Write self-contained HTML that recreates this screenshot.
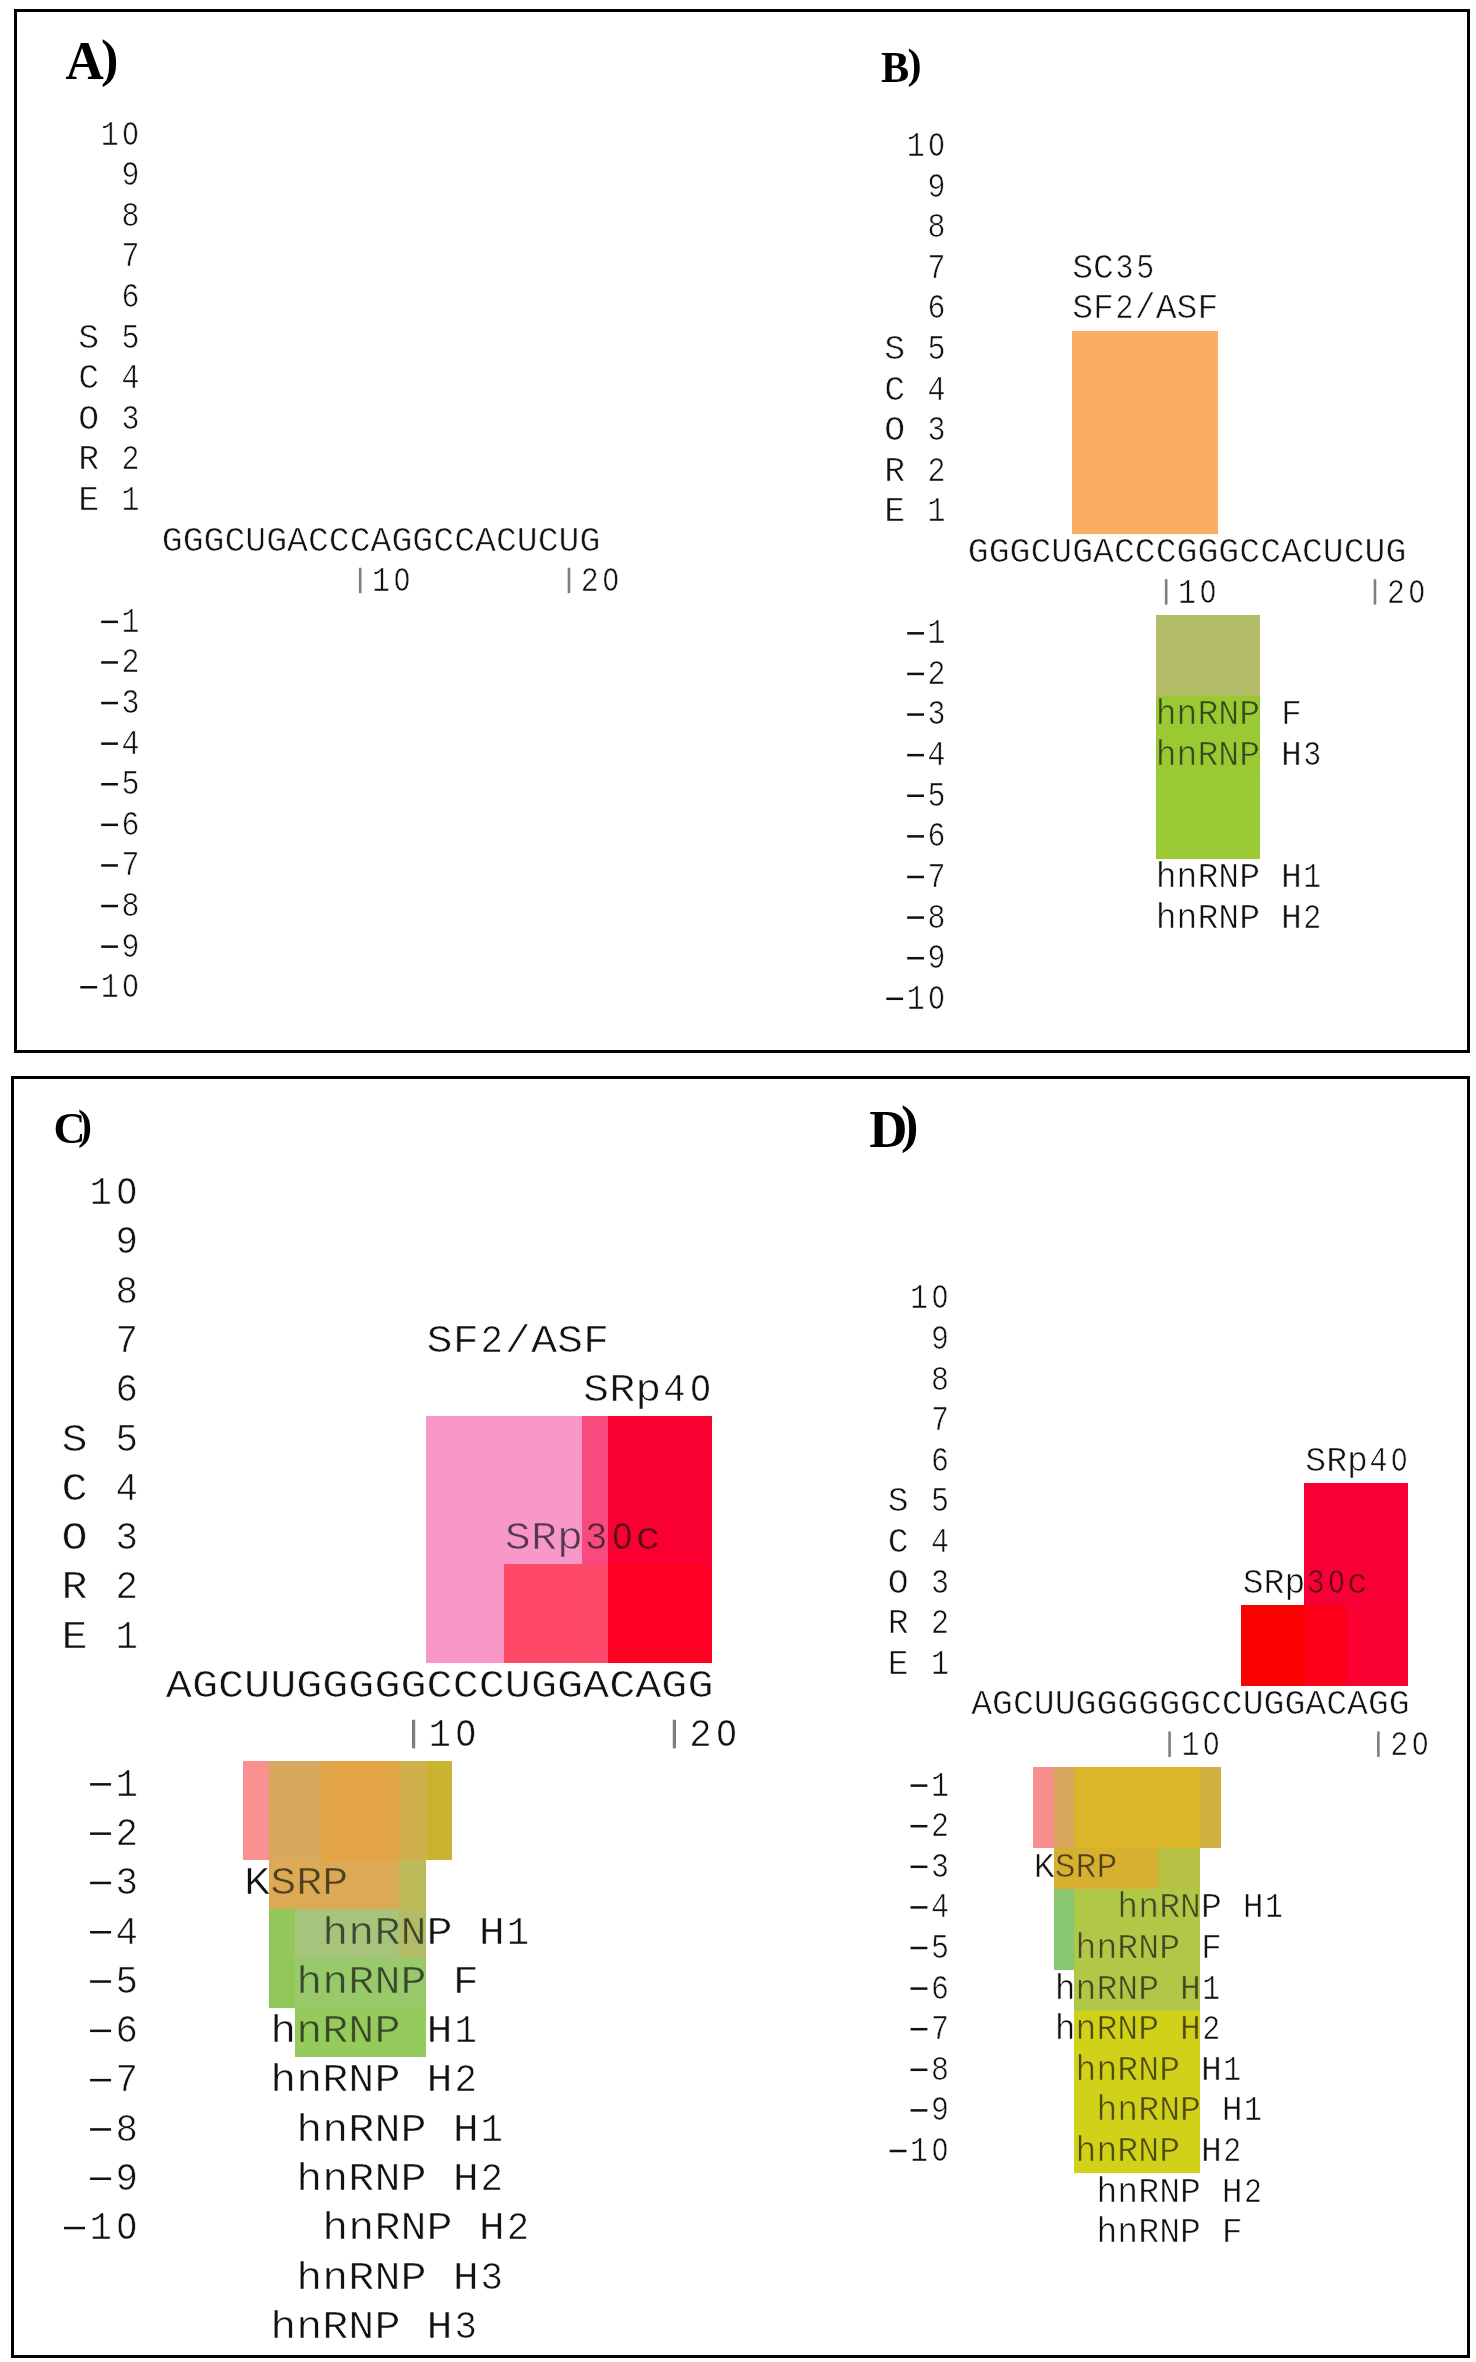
<!DOCTYPE html>
<html><head><meta charset="utf-8"><title>Figure</title>
<style>
html,body{margin:0;padding:0;background:#fff;width:1476px;height:2362px;overflow:hidden;}
svg{display:block;}
text{font-family:"Liberation Mono",monospace;}
</style></head><body>
<svg width="1476" height="2362" viewBox="0 0 1476 2362">
<defs>
<g id="R">
<rect x="1072" y="331" width="146" height="203" fill="#fcac63"/>
<rect x="1156" y="615" width="104" height="81" fill="#b3be68"/>
<rect x="1156" y="696" width="104" height="163" fill="#9acb34"/>
<rect x="426" y="1416" width="156" height="247" fill="#f899c9"/>
<rect x="504" y="1564" width="78" height="99" fill="#ff4a66"/>
<rect x="582" y="1416" width="26" height="148" fill="#f84b7f"/>
<rect x="582" y="1564" width="26" height="99" fill="#ff4a6a"/>
<rect x="608" y="1416" width="104" height="148" fill="#f90032"/>
<rect x="608" y="1564" width="104" height="99" fill="#ff0024"/>
<rect x="243" y="1761" width="26" height="99" fill="#f99191"/>
<rect x="269" y="1761" width="52" height="99" fill="#d7aa5c"/>
<rect x="321" y="1761" width="78" height="99" fill="#e4a548"/>
<rect x="399" y="1761" width="27" height="99" fill="#cfb04e"/>
<rect x="426" y="1761" width="26" height="99" fill="#c9b432"/>
<rect x="269" y="1860" width="130" height="49" fill="#dcaa55"/>
<rect x="399" y="1860" width="27" height="49" fill="#bcba5a"/>
<rect x="269" y="1909" width="26" height="99" fill="#92c85a"/>
<rect x="295" y="1909" width="104" height="49" fill="#a6c47c"/>
<rect x="399" y="1909" width="27" height="49" fill="#b2bc66"/>
<rect x="295" y="1958" width="131" height="50" fill="#99c96c"/>
<rect x="295" y="2008" width="131" height="49" fill="#96cb5e"/>
<rect x="1304" y="1483" width="104" height="122" fill="#f80035"/>
<rect x="1241" y="1605" width="63" height="81" fill="#fb0000"/>
<rect x="1304" y="1605" width="42" height="81" fill="#fd0018"/>
<rect x="1346" y="1605" width="62" height="81" fill="#fb0033"/>
<rect x="1033" y="1767" width="21" height="81" fill="#f79090"/>
<rect x="1054" y="1767" width="20" height="81" fill="#d8a860"/>
<rect x="1074" y="1767" width="126" height="81" fill="#dcb72a"/>
<rect x="1200" y="1767" width="21" height="81" fill="#d0b040"/>
<rect x="1054" y="1848" width="104" height="41" fill="#d8b032"/>
<rect x="1158" y="1848" width="42" height="41" fill="#b8c044"/>
<rect x="1054" y="1889" width="20" height="81" fill="#88c870"/>
<rect x="1074" y="1889" width="126" height="122" fill="#b0c848"/>
<rect x="1074" y="2011" width="126" height="162" fill="#d2d21a"/>
</g>
<g id="T">
<text transform="translate(0 144.57) scale(0.85995 1)" x="117.03" font-size="34.796">1</text>
<text transform="translate(0 144.57) scale(0.78996 1)" x="154.76" font-size="34.796">O</text>
<text transform="translate(0 185.17) scale(0.85995 1)" x="141.31" font-size="34.796">9</text>
<text transform="translate(0 225.77) scale(0.85995 1)" x="141.31" font-size="34.796">8</text>
<text transform="translate(0 266.37) scale(0.85995 1)" x="141.31" font-size="34.796">7</text>
<text transform="translate(0 306.97) scale(0.85995 1)" x="141.31" font-size="34.796">6</text>
<text transform="translate(0 347.57) scale(0.85995 1)" x="141.31" font-size="34.796">5</text>
<text transform="translate(0 388.17) scale(0.85995 1)" x="141.31" font-size="34.796">4</text>
<text transform="translate(0 428.77) scale(0.85995 1)" x="141.31" font-size="34.796">3</text>
<text transform="translate(0 469.37) scale(0.85995 1)" x="141.31" font-size="34.796">2</text>
<text transform="translate(0 509.97) scale(0.85995 1)" x="141.31" font-size="34.796">1</text>
<text transform="translate(0 347.57) scale(0.99994 1)" x="78.30" font-size="34.796">S</text>
<text transform="translate(0 388.17) scale(0.99994 1)" x="78.30" font-size="34.796">C</text>
<text transform="translate(0 428.77) scale(0.99994 1)" x="78.30" font-size="34.796">O</text>
<text transform="translate(0 469.37) scale(0.99994 1)" x="78.30" font-size="34.796">R</text>
<text transform="translate(0 509.97) scale(0.99994 1)" x="78.30" font-size="34.796">E</text>
<text transform="translate(0 550.57) scale(0.99994 1)" x="161.83 182.71 203.59 224.47 245.35 266.24 287.12 308.00 328.88 349.76 370.64 391.52 412.40 433.29 454.17 475.05 495.93 516.81 537.69 558.57 579.45" font-size="34.796">GGGCUGACCCAGGCCACUCUG</text>
<text transform="translate(0 591.17) scale(0.85995 1)" x="432.68" font-size="34.796">1</text>
<text transform="translate(0 591.17) scale(0.78996 1)" x="498.37" font-size="34.796">O</text>
<text transform="translate(0 591.17) scale(0.85995 1)" x="675.48" font-size="34.796">2</text>
<text transform="translate(0 591.17) scale(0.78996 1)" x="762.69" font-size="34.796">O</text>
<text transform="translate(0 631.77) scale(0.85995 1)" x="141.31" font-size="34.796">1</text>
<text transform="translate(0 672.37) scale(0.85995 1)" x="141.31" font-size="34.796">2</text>
<text transform="translate(0 712.97) scale(0.85995 1)" x="141.31" font-size="34.796">3</text>
<text transform="translate(0 753.57) scale(0.85995 1)" x="141.31" font-size="34.796">4</text>
<text transform="translate(0 794.17) scale(0.85995 1)" x="141.31" font-size="34.796">5</text>
<text transform="translate(0 834.77) scale(0.85995 1)" x="141.31" font-size="34.796">6</text>
<text transform="translate(0 875.37) scale(0.85995 1)" x="141.31" font-size="34.796">7</text>
<text transform="translate(0 915.97) scale(0.85995 1)" x="141.31" font-size="34.796">8</text>
<text transform="translate(0 956.57) scale(0.85995 1)" x="141.31" font-size="34.796">9</text>
<text transform="translate(0 997.17) scale(0.85995 1)" x="117.03" font-size="34.796">1</text>
<text transform="translate(0 997.17) scale(0.78996 1)" x="154.76" font-size="34.796">O</text>
<text transform="translate(0 155.92) scale(0.85995 1)" x="1054.30" font-size="34.796">1</text>
<text transform="translate(0 155.92) scale(0.78996 1)" x="1175.06" font-size="34.796">O</text>
<text transform="translate(0 196.53) scale(0.85995 1)" x="1078.58" font-size="34.796">9</text>
<text transform="translate(0 237.14) scale(0.85995 1)" x="1078.58" font-size="34.796">8</text>
<text transform="translate(0 277.75) scale(0.85995 1)" x="1078.58" font-size="34.796">7</text>
<text transform="translate(0 318.36) scale(0.85995 1)" x="1078.58" font-size="34.796">6</text>
<text transform="translate(0 358.97) scale(0.85995 1)" x="1078.58" font-size="34.796">5</text>
<text transform="translate(0 399.58) scale(0.85995 1)" x="1078.58" font-size="34.796">4</text>
<text transform="translate(0 440.19) scale(0.85995 1)" x="1078.58" font-size="34.796">3</text>
<text transform="translate(0 480.80) scale(0.85995 1)" x="1078.58" font-size="34.796">2</text>
<text transform="translate(0 521.41) scale(0.85995 1)" x="1078.58" font-size="34.796">1</text>
<text transform="translate(0 358.97) scale(0.99994 1)" x="884.35" font-size="34.796">S</text>
<text transform="translate(0 399.58) scale(0.99994 1)" x="884.35" font-size="34.796">C</text>
<text transform="translate(0 440.19) scale(0.99994 1)" x="884.35" font-size="34.796">O</text>
<text transform="translate(0 480.80) scale(0.99994 1)" x="884.35" font-size="34.796">R</text>
<text transform="translate(0 521.41) scale(0.99994 1)" x="884.35" font-size="34.796">E</text>
<text transform="translate(0 562.02) scale(0.99994 1)" x="967.88 988.76 1009.64 1030.52 1051.40 1072.28 1093.17 1114.05 1134.93 1155.81 1176.69 1197.57 1218.45 1239.33 1260.22 1281.10 1301.98 1322.86 1343.74 1364.62 1385.50" font-size="34.796">GGGCUGACCCGGGCCACUCUG</text>
<text transform="translate(0 602.63) scale(0.85995 1)" x="1369.94" font-size="34.796">1</text>
<text transform="translate(0 602.63) scale(0.78996 1)" x="1518.67" font-size="34.796">O</text>
<text transform="translate(0 602.63) scale(0.85995 1)" x="1612.75" font-size="34.796">2</text>
<text transform="translate(0 602.63) scale(0.78996 1)" x="1782.99" font-size="34.796">O</text>
<text transform="translate(0 643.24) scale(0.85995 1)" x="1078.58" font-size="34.796">1</text>
<text transform="translate(0 683.85) scale(0.85995 1)" x="1078.58" font-size="34.796">2</text>
<text transform="translate(0 724.46) scale(0.85995 1)" x="1078.58" font-size="34.796">3</text>
<text transform="translate(0 765.07) scale(0.85995 1)" x="1078.58" font-size="34.796">4</text>
<text transform="translate(0 805.68) scale(0.85995 1)" x="1078.58" font-size="34.796">5</text>
<text transform="translate(0 846.29) scale(0.85995 1)" x="1078.58" font-size="34.796">6</text>
<text transform="translate(0 886.90) scale(0.85995 1)" x="1078.58" font-size="34.796">7</text>
<text transform="translate(0 927.51) scale(0.85995 1)" x="1078.58" font-size="34.796">8</text>
<text transform="translate(0 968.12) scale(0.85995 1)" x="1078.58" font-size="34.796">9</text>
<text transform="translate(0 1008.73) scale(0.85995 1)" x="1054.30" font-size="34.796">1</text>
<text transform="translate(0 1008.73) scale(0.78996 1)" x="1175.06" font-size="34.796">O</text>
<text transform="translate(0 1204.05) scale(0.94325 1)" x="94.78" font-size="39.624">1</text>
<text transform="translate(0 1204.05) scale(0.86647 1)" x="134.34" font-size="39.624">O</text>
<text transform="translate(0 1253.35) scale(0.94325 1)" x="122.43" font-size="39.624">9</text>
<text transform="translate(0 1302.65) scale(0.94325 1)" x="122.43" font-size="39.624">8</text>
<text transform="translate(0 1351.95) scale(0.94325 1)" x="122.43" font-size="39.624">7</text>
<text transform="translate(0 1401.25) scale(0.94325 1)" x="122.43" font-size="39.624">6</text>
<text transform="translate(0 1450.55) scale(0.94325 1)" x="122.43" font-size="39.624">5</text>
<text transform="translate(0 1499.85) scale(0.94325 1)" x="122.43" font-size="39.624">4</text>
<text transform="translate(0 1549.15) scale(0.94325 1)" x="122.43" font-size="39.624">3</text>
<text transform="translate(0 1598.45) scale(0.94325 1)" x="122.43" font-size="39.624">2</text>
<text transform="translate(0 1647.75) scale(0.94325 1)" x="122.43" font-size="39.624">1</text>
<text transform="translate(0 1450.55) scale(1.09680 1)" x="56.07" font-size="39.624">S</text>
<text transform="translate(0 1499.85) scale(1.09680 1)" x="56.07" font-size="39.624">C</text>
<text transform="translate(0 1549.15) scale(1.09680 1)" x="56.07" font-size="39.624">O</text>
<text transform="translate(0 1598.45) scale(1.09680 1)" x="56.07" font-size="39.624">R</text>
<text transform="translate(0 1647.75) scale(1.09680 1)" x="56.07" font-size="39.624">E</text>
<text transform="translate(0 1697.05) scale(1.09680 1)" x="151.19 174.96 198.74 222.52 246.30 270.08 293.85 317.63 341.41 365.19 388.97 412.75 436.52 460.30 484.08 507.86 531.64 555.42 579.19 602.97 626.75" font-size="39.624">AGCUUGGGGGCCCUGGACAGG</text>
<text transform="translate(0 1746.35) scale(0.94325 1)" x="454.22" font-size="39.624">1</text>
<text transform="translate(0 1746.35) scale(0.86647 1)" x="525.63" font-size="39.624">O</text>
<text transform="translate(0 1746.35) scale(0.94325 1)" x="730.71" font-size="39.624">2</text>
<text transform="translate(0 1746.35) scale(0.86647 1)" x="826.62" font-size="39.624">O</text>
<text transform="translate(0 1795.65) scale(0.94325 1)" x="122.43" font-size="39.624">1</text>
<text transform="translate(0 1844.95) scale(0.94325 1)" x="122.43" font-size="39.624">2</text>
<text transform="translate(0 1894.25) scale(0.94325 1)" x="122.43" font-size="39.624">3</text>
<text transform="translate(0 1943.55) scale(0.94325 1)" x="122.43" font-size="39.624">4</text>
<text transform="translate(0 1992.85) scale(0.94325 1)" x="122.43" font-size="39.624">5</text>
<text transform="translate(0 2042.15) scale(0.94325 1)" x="122.43" font-size="39.624">6</text>
<text transform="translate(0 2091.45) scale(0.94325 1)" x="122.43" font-size="39.624">7</text>
<text transform="translate(0 2140.75) scale(0.94325 1)" x="122.43" font-size="39.624">8</text>
<text transform="translate(0 2190.05) scale(0.94325 1)" x="122.43" font-size="39.624">9</text>
<text transform="translate(0 2239.35) scale(0.94325 1)" x="94.78" font-size="39.624">1</text>
<text transform="translate(0 2239.35) scale(0.86647 1)" x="134.34" font-size="39.624">O</text>
<text transform="translate(0 1308.32) scale(0.85995 1)" x="1058.25" font-size="34.796">1</text>
<text transform="translate(0 1308.32) scale(0.78996 1)" x="1179.37" font-size="34.796">O</text>
<text transform="translate(0 1348.92) scale(0.85995 1)" x="1082.53" font-size="34.796">9</text>
<text transform="translate(0 1389.52) scale(0.85995 1)" x="1082.53" font-size="34.796">8</text>
<text transform="translate(0 1430.12) scale(0.85995 1)" x="1082.53" font-size="34.796">7</text>
<text transform="translate(0 1470.72) scale(0.85995 1)" x="1082.53" font-size="34.796">6</text>
<text transform="translate(0 1511.32) scale(0.85995 1)" x="1082.53" font-size="34.796">5</text>
<text transform="translate(0 1551.92) scale(0.85995 1)" x="1082.53" font-size="34.796">4</text>
<text transform="translate(0 1592.52) scale(0.85995 1)" x="1082.53" font-size="34.796">3</text>
<text transform="translate(0 1633.12) scale(0.85995 1)" x="1082.53" font-size="34.796">2</text>
<text transform="translate(0 1673.72) scale(0.85995 1)" x="1082.53" font-size="34.796">1</text>
<text transform="translate(0 1511.32) scale(0.99994 1)" x="887.75" font-size="34.796">S</text>
<text transform="translate(0 1551.92) scale(0.99994 1)" x="887.75" font-size="34.796">C</text>
<text transform="translate(0 1592.52) scale(0.99994 1)" x="887.75" font-size="34.796">O</text>
<text transform="translate(0 1633.12) scale(0.99994 1)" x="887.75" font-size="34.796">R</text>
<text transform="translate(0 1673.72) scale(0.99994 1)" x="887.75" font-size="34.796">E</text>
<text transform="translate(0 1714.32) scale(0.99994 1)" x="971.28 992.16 1013.04 1033.92 1054.80 1075.68 1096.57 1117.45 1138.33 1159.21 1180.09 1200.97 1221.85 1242.73 1263.62 1284.50 1305.38 1326.26 1347.14 1368.02 1388.90" font-size="34.796">AGCUUGGGGGGCCUGGACAGG</text>
<text transform="translate(0 1754.92) scale(0.85995 1)" x="1373.90" font-size="34.796">1</text>
<text transform="translate(0 1754.92) scale(0.78996 1)" x="1522.98" font-size="34.796">O</text>
<text transform="translate(0 1754.92) scale(0.85995 1)" x="1616.70" font-size="34.796">2</text>
<text transform="translate(0 1754.92) scale(0.78996 1)" x="1787.30" font-size="34.796">O</text>
<text transform="translate(0 1795.52) scale(0.85995 1)" x="1082.53" font-size="34.796">1</text>
<text transform="translate(0 1836.12) scale(0.85995 1)" x="1082.53" font-size="34.796">2</text>
<text transform="translate(0 1876.72) scale(0.85995 1)" x="1082.53" font-size="34.796">3</text>
<text transform="translate(0 1917.32) scale(0.85995 1)" x="1082.53" font-size="34.796">4</text>
<text transform="translate(0 1957.92) scale(0.85995 1)" x="1082.53" font-size="34.796">5</text>
<text transform="translate(0 1998.52) scale(0.85995 1)" x="1082.53" font-size="34.796">6</text>
<text transform="translate(0 2039.12) scale(0.85995 1)" x="1082.53" font-size="34.796">7</text>
<text transform="translate(0 2079.72) scale(0.85995 1)" x="1082.53" font-size="34.796">8</text>
<text transform="translate(0 2120.32) scale(0.85995 1)" x="1082.53" font-size="34.796">9</text>
<text transform="translate(0 2160.92) scale(0.85995 1)" x="1058.25" font-size="34.796">1</text>
<text transform="translate(0 2160.92) scale(0.78996 1)" x="1179.37" font-size="34.796">O</text>
<text transform="translate(0 277.75) scale(0.99994 1)" x="1072.28 1093.17" font-size="34.796">SC</text>
<text transform="translate(0 277.75) scale(0.85995 1)" x="1297.10 1321.38" font-size="34.796">35</text>
<text transform="translate(0 318.36) scale(0.99994 1)" x="1072.28 1093.17 1134.93 1155.81 1176.69 1197.57" font-size="34.796">SF/ASF</text>
<text transform="translate(0 318.36) scale(0.85995 1)" x="1297.10" font-size="34.796">2</text>
<text transform="translate(0 724.46) scale(0.99994 1)" x="1155.81 1176.69 1197.57 1218.45 1239.33" font-size="34.796">hnRNP</text>
<text transform="translate(0 724.46) scale(0.99994 1)" x="1281.10" font-size="34.796">F</text>
<text transform="translate(0 765.07) scale(0.99994 1)" x="1155.81 1176.69 1197.57 1218.45 1239.33" font-size="34.796">hnRNP</text>
<text transform="translate(0 765.07) scale(0.99994 1)" x="1281.10" font-size="34.796">H</text>
<text transform="translate(0 765.07) scale(0.85995 1)" x="1515.62" font-size="34.796">3</text>
<text transform="translate(0 886.90) scale(0.99994 1)" x="1155.81 1176.69 1197.57 1218.45 1239.33" font-size="34.796">hnRNP</text>
<text transform="translate(0 886.90) scale(0.99994 1)" x="1281.10" font-size="34.796">H</text>
<text transform="translate(0 886.90) scale(0.85995 1)" x="1515.62" font-size="34.796">1</text>
<text transform="translate(0 927.51) scale(0.99994 1)" x="1155.81 1176.69 1197.57 1218.45 1239.33" font-size="34.796">hnRNP</text>
<text transform="translate(0 927.51) scale(0.99994 1)" x="1281.10" font-size="34.796">H</text>
<text transform="translate(0 927.51) scale(0.85995 1)" x="1515.62" font-size="34.796">2</text>
<text transform="translate(0 1351.95) scale(1.09680 1)" x="388.97 412.75 460.30 484.08 507.86 531.64" font-size="39.624">SF/ASF</text>
<text transform="translate(0 1351.95) scale(0.94325 1)" x="509.52" font-size="39.624">2</text>
<text transform="translate(0 1401.25) scale(1.09680 1)" x="531.64 555.42 579.19" font-size="39.624">SRp</text>
<text transform="translate(0 1401.25) scale(0.94325 1)" x="703.06" font-size="39.624">4</text>
<text transform="translate(0 1401.25) scale(0.86647 1)" x="796.52" font-size="39.624">O</text>
<text transform="translate(0 1549.15) scale(1.09680 1)" x="460.30 484.08 507.86 579.19" font-size="39.624">SRpc</text>
<text transform="translate(0 1549.15) scale(0.94325 1)" x="620.12" font-size="39.624">3</text>
<text transform="translate(0 1549.15) scale(0.86647 1)" x="706.22" font-size="39.624">O</text>
<text transform="translate(0 1894.25) scale(1.09680 1)" x="222.52 246.30 270.08 293.85" font-size="39.624">KSRP</text>
<text transform="translate(0 1943.55) scale(1.09680 1)" x="293.85 317.63 341.41 365.19 388.97" font-size="39.624">hnRNP</text>
<text transform="translate(0 1943.55) scale(1.09680 1)" x="436.52" font-size="39.624">H</text>
<text transform="translate(0 1943.55) scale(0.94325 1)" x="537.17" font-size="39.624">1</text>
<text transform="translate(0 1992.85) scale(1.09680 1)" x="270.08 293.85 317.63 341.41 365.19" font-size="39.624">hnRNP</text>
<text transform="translate(0 1992.85) scale(1.09680 1)" x="412.75" font-size="39.624">F</text>
<text transform="translate(0 2042.15) scale(1.09680 1)" x="246.30 270.08 293.85 317.63 341.41" font-size="39.624">hnRNP</text>
<text transform="translate(0 2042.15) scale(1.09680 1)" x="388.97" font-size="39.624">H</text>
<text transform="translate(0 2042.15) scale(0.94325 1)" x="481.87" font-size="39.624">1</text>
<text transform="translate(0 2091.45) scale(1.09680 1)" x="246.30 270.08 293.85 317.63 341.41" font-size="39.624">hnRNP</text>
<text transform="translate(0 2091.45) scale(1.09680 1)" x="388.97" font-size="39.624">H</text>
<text transform="translate(0 2091.45) scale(0.94325 1)" x="481.87" font-size="39.624">2</text>
<text transform="translate(0 2140.75) scale(1.09680 1)" x="270.08 293.85 317.63 341.41 365.19" font-size="39.624">hnRNP</text>
<text transform="translate(0 2140.75) scale(1.09680 1)" x="412.75" font-size="39.624">H</text>
<text transform="translate(0 2140.75) scale(0.94325 1)" x="509.52" font-size="39.624">1</text>
<text transform="translate(0 2190.05) scale(1.09680 1)" x="270.08 293.85 317.63 341.41 365.19" font-size="39.624">hnRNP</text>
<text transform="translate(0 2190.05) scale(1.09680 1)" x="412.75" font-size="39.624">H</text>
<text transform="translate(0 2190.05) scale(0.94325 1)" x="509.52" font-size="39.624">2</text>
<text transform="translate(0 2239.35) scale(1.09680 1)" x="293.85 317.63 341.41 365.19 388.97" font-size="39.624">hnRNP</text>
<text transform="translate(0 2239.35) scale(1.09680 1)" x="436.52" font-size="39.624">H</text>
<text transform="translate(0 2239.35) scale(0.94325 1)" x="537.17" font-size="39.624">2</text>
<text transform="translate(0 2288.65) scale(1.09680 1)" x="270.08 293.85 317.63 341.41 365.19" font-size="39.624">hnRNP</text>
<text transform="translate(0 2288.65) scale(1.09680 1)" x="412.75" font-size="39.624">H</text>
<text transform="translate(0 2288.65) scale(0.94325 1)" x="509.52" font-size="39.624">3</text>
<text transform="translate(0 2337.95) scale(1.09680 1)" x="246.30 270.08 293.85 317.63 341.41" font-size="39.624">hnRNP</text>
<text transform="translate(0 2337.95) scale(1.09680 1)" x="388.97" font-size="39.624">H</text>
<text transform="translate(0 2337.95) scale(0.94325 1)" x="481.87" font-size="39.624">3</text>
<text transform="translate(0 1470.72) scale(0.99994 1)" x="1305.38 1326.26 1347.14" font-size="34.796">SRp</text>
<text transform="translate(0 1470.72) scale(0.85995 1)" x="1592.42" font-size="34.796">4</text>
<text transform="translate(0 1470.72) scale(0.78996 1)" x="1760.86" font-size="34.796">O</text>
<text transform="translate(0 1592.52) scale(0.99994 1)" x="1242.73 1263.62 1284.50 1347.14" font-size="34.796">SRpc</text>
<text transform="translate(0 1592.52) scale(0.85995 1)" x="1519.58" font-size="34.796">3</text>
<text transform="translate(0 1592.52) scale(0.78996 1)" x="1681.57" font-size="34.796">O</text>
<text transform="translate(0 1876.72) scale(0.99994 1)" x="1033.92 1054.80 1075.68 1096.57" font-size="34.796">KSRP</text>
<text transform="translate(0 1917.32) scale(0.99994 1)" x="1117.45 1138.33 1159.21 1180.09 1200.97" font-size="34.796">hnRNP</text>
<text transform="translate(0 1917.32) scale(0.99994 1)" x="1242.73" font-size="34.796">H</text>
<text transform="translate(0 1917.32) scale(0.85995 1)" x="1471.02" font-size="34.796">1</text>
<text transform="translate(0 1957.92) scale(0.99994 1)" x="1075.68 1096.57 1117.45 1138.33 1159.21" font-size="34.796">hnRNP</text>
<text transform="translate(0 1957.92) scale(0.99994 1)" x="1200.97" font-size="34.796">F</text>
<text transform="translate(0 1998.52) scale(0.99994 1)" x="1054.80 1075.68 1096.57 1117.45 1138.33" font-size="34.796">hnRNP</text>
<text transform="translate(0 1998.52) scale(0.99994 1)" x="1180.09" font-size="34.796">H</text>
<text transform="translate(0 1998.52) scale(0.85995 1)" x="1398.18" font-size="34.796">1</text>
<text transform="translate(0 2039.12) scale(0.99994 1)" x="1054.80 1075.68 1096.57 1117.45 1138.33" font-size="34.796">hnRNP</text>
<text transform="translate(0 2039.12) scale(0.99994 1)" x="1180.09" font-size="34.796">H</text>
<text transform="translate(0 2039.12) scale(0.85995 1)" x="1398.18" font-size="34.796">2</text>
<text transform="translate(0 2079.72) scale(0.99994 1)" x="1075.68 1096.57 1117.45 1138.33 1159.21" font-size="34.796">hnRNP</text>
<text transform="translate(0 2079.72) scale(0.99994 1)" x="1200.97" font-size="34.796">H</text>
<text transform="translate(0 2079.72) scale(0.85995 1)" x="1422.46" font-size="34.796">1</text>
<text transform="translate(0 2120.32) scale(0.99994 1)" x="1096.57 1117.45 1138.33 1159.21 1180.09" font-size="34.796">hnRNP</text>
<text transform="translate(0 2120.32) scale(0.99994 1)" x="1221.85" font-size="34.796">H</text>
<text transform="translate(0 2120.32) scale(0.85995 1)" x="1446.74" font-size="34.796">1</text>
<text transform="translate(0 2160.92) scale(0.99994 1)" x="1075.68 1096.57 1117.45 1138.33 1159.21" font-size="34.796">hnRNP</text>
<text transform="translate(0 2160.92) scale(0.99994 1)" x="1200.97" font-size="34.796">H</text>
<text transform="translate(0 2160.92) scale(0.85995 1)" x="1422.46" font-size="34.796">2</text>
<text transform="translate(0 2201.52) scale(0.99994 1)" x="1096.57 1117.45 1138.33 1159.21 1180.09" font-size="34.796">hnRNP</text>
<text transform="translate(0 2201.52) scale(0.99994 1)" x="1221.85" font-size="34.796">H</text>
<text transform="translate(0 2201.52) scale(0.85995 1)" x="1446.74" font-size="34.796">2</text>
<text transform="translate(0 2242.12) scale(0.99994 1)" x="1096.57 1117.45 1138.33 1159.21 1180.09" font-size="34.796">hnRNP</text>
<text transform="translate(0 2242.12) scale(0.99994 1)" x="1221.85" font-size="34.796">F</text>
</g>
<mask id="er" maskUnits="userSpaceOnUse" x="0" y="0" width="1476" height="2362">
<rect x="0" y="0" width="1476" height="2362" fill="#fff"/>
<use href="#T" fill="#fff" stroke="#000" stroke-width="0.7px"/>
</mask>
</defs>
<rect x="0" y="0" width="1476" height="2362" fill="#fff"/>
<use href="#R"/>
<g mask="url(#er)"><use href="#T" fill="#111111"/></g>
<rect x="358.88" y="567.75" width="2.60" height="25.42" fill="#7d7d85"/>
<rect x="567.68" y="567.75" width="2.60" height="25.42" fill="#7d7d85"/>
<rect x="101.18" y="620.60" width="16.80" height="2.50" fill="#111111"/>
<rect x="101.18" y="661.20" width="16.80" height="2.50" fill="#111111"/>
<rect x="101.18" y="701.80" width="16.80" height="2.50" fill="#111111"/>
<rect x="101.18" y="742.40" width="16.80" height="2.50" fill="#111111"/>
<rect x="101.18" y="783.00" width="16.80" height="2.50" fill="#111111"/>
<rect x="101.18" y="823.60" width="16.80" height="2.50" fill="#111111"/>
<rect x="101.18" y="864.20" width="16.80" height="2.50" fill="#111111"/>
<rect x="101.18" y="904.80" width="16.80" height="2.50" fill="#111111"/>
<rect x="101.18" y="945.40" width="16.80" height="2.50" fill="#111111"/>
<rect x="80.30" y="986.00" width="16.80" height="2.50" fill="#111111"/>
<rect x="1164.88" y="579.21" width="2.60" height="25.42" fill="#7d7d85"/>
<rect x="1373.68" y="579.21" width="2.60" height="25.42" fill="#7d7d85"/>
<rect x="907.18" y="632.07" width="16.80" height="2.50" fill="#111111"/>
<rect x="907.18" y="672.68" width="16.80" height="2.50" fill="#111111"/>
<rect x="907.18" y="713.29" width="16.80" height="2.50" fill="#111111"/>
<rect x="907.18" y="753.90" width="16.80" height="2.50" fill="#111111"/>
<rect x="907.18" y="794.51" width="16.80" height="2.50" fill="#111111"/>
<rect x="907.18" y="835.12" width="16.80" height="2.50" fill="#111111"/>
<rect x="907.18" y="875.73" width="16.80" height="2.50" fill="#111111"/>
<rect x="907.18" y="916.34" width="16.80" height="2.50" fill="#111111"/>
<rect x="907.18" y="956.95" width="16.80" height="2.50" fill="#111111"/>
<rect x="886.30" y="997.56" width="16.80" height="2.50" fill="#111111"/>
<rect x="411.96" y="1719.75" width="3.25" height="28.60" fill="#7d7d85"/>
<rect x="672.76" y="1719.75" width="3.25" height="28.60" fill="#7d7d85"/>
<rect x="90.08" y="1783.10" width="20.98" height="2.50" fill="#111111"/>
<rect x="90.08" y="1832.40" width="20.98" height="2.50" fill="#111111"/>
<rect x="90.08" y="1881.70" width="20.98" height="2.50" fill="#111111"/>
<rect x="90.08" y="1931.00" width="20.98" height="2.50" fill="#111111"/>
<rect x="90.08" y="1980.30" width="20.98" height="2.50" fill="#111111"/>
<rect x="90.08" y="2029.60" width="20.98" height="2.50" fill="#111111"/>
<rect x="90.08" y="2078.90" width="20.98" height="2.50" fill="#111111"/>
<rect x="90.08" y="2128.20" width="20.98" height="2.50" fill="#111111"/>
<rect x="90.08" y="2177.50" width="20.98" height="2.50" fill="#111111"/>
<rect x="64.00" y="2226.80" width="20.98" height="2.50" fill="#111111"/>
<rect x="1168.28" y="1731.50" width="2.60" height="25.42" fill="#7d7d85"/>
<rect x="1377.08" y="1731.50" width="2.60" height="25.42" fill="#7d7d85"/>
<rect x="910.58" y="1784.35" width="16.80" height="2.50" fill="#111111"/>
<rect x="910.58" y="1824.95" width="16.80" height="2.50" fill="#111111"/>
<rect x="910.58" y="1865.55" width="16.80" height="2.50" fill="#111111"/>
<rect x="910.58" y="1906.15" width="16.80" height="2.50" fill="#111111"/>
<rect x="910.58" y="1946.75" width="16.80" height="2.50" fill="#111111"/>
<rect x="910.58" y="1987.35" width="16.80" height="2.50" fill="#111111"/>
<rect x="910.58" y="2027.95" width="16.80" height="2.50" fill="#111111"/>
<rect x="910.58" y="2068.55" width="16.80" height="2.50" fill="#111111"/>
<rect x="910.58" y="2109.15" width="16.80" height="2.50" fill="#111111"/>
<rect x="889.70" y="2149.75" width="16.80" height="2.50" fill="#111111"/>
<text transform="translate(65.38 78.80) scale(0.9464 1)" font-size="55.90" style="font-family:'Liberation Serif';font-weight:bold" fill="#000">A</text>
<text x="101.12" y="75.77" font-size="52.28" style="font-family:'Liberation Serif';font-weight:bold" fill="#000">)</text>
<text transform="translate(880.90 81.57) scale(0.9689 1)" font-size="43.60" style="font-family:'Liberation Serif';font-weight:bold" fill="#000">B</text>
<text x="907.54" y="77.68" font-size="42.35" style="font-family:'Liberation Serif';font-weight:bold" fill="#000">)</text>
<text transform="translate(53.44 1143.00) scale(1.0034 1)" font-size="44.06" style="font-family:'Liberation Serif';font-weight:bold" fill="#000">C</text>
<text x="78.04" y="1138.93" font-size="42.13" style="font-family:'Liberation Serif';font-weight:bold" fill="#000">)</text>
<text transform="translate(869.37 1146.50) scale(0.9872 1)" font-size="53.60" style="font-family:'Liberation Serif';font-weight:bold" fill="#000">D</text>
<text x="901.12" y="1141.67" font-size="52.28" style="font-family:'Liberation Serif';font-weight:bold" fill="#000">)</text>
<rect x="14" y="9" width="1456" height="3" fill="#000"/>
<rect x="14" y="1050" width="1456" height="3" fill="#000"/>
<rect x="14" y="9" width="3" height="1044" fill="#000"/>
<rect x="1467" y="9" width="3" height="1044" fill="#000"/>
<rect x="11" y="1076" width="1459" height="3" fill="#000"/>
<rect x="11" y="2355" width="1459" height="3" fill="#000"/>
<rect x="11" y="1076" width="3" height="1282" fill="#000"/>
<rect x="1467" y="1076" width="3" height="1282" fill="#000"/>
<use href="#R" opacity="0.3"/>
</svg>
</body></html>
